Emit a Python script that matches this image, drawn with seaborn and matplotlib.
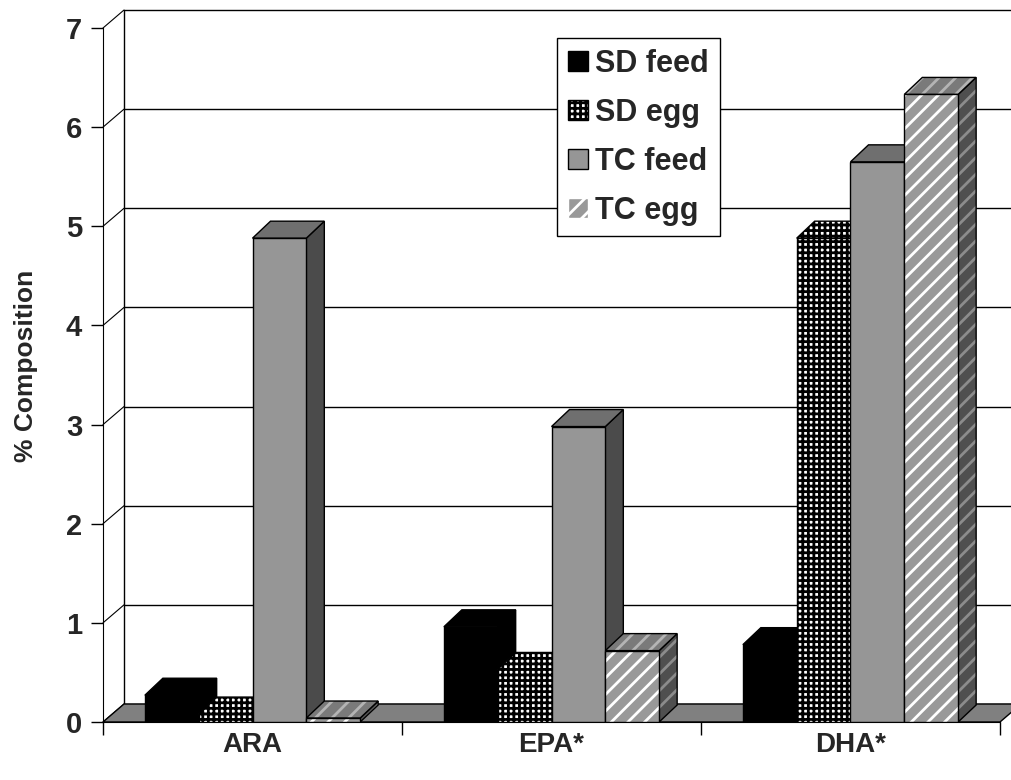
import matplotlib
matplotlib.use('Agg')
import matplotlib.pyplot as plt
import matplotlib.patches as mpatches
import seaborn as sns
import pandas as pd

categories = ['ARA', 'EPA*', 'DHA*']
series = ['SD feed', 'SD egg', 'TC feed', 'TC egg']
sd_feed = [0.27, 0.96, 0.78]
sd_egg = [0.08, 0.53, 4.88]
tc_feed = [4.88, 2.98, 5.65]
tc_egg = [0.04, 0.72, 6.33]
y_ticks = [0, 1, 2, 3, 4, 5, 6, 7]

sns.set_style('white')
plt.rcParams['font.family'] = ['Liberation Sans', 'DejaVu Sans']
plt.rcParams['font.weight'] = 'bold'
plt.rcParams['hatch.linewidth'] = 2.0

# (facecolor, hatch colour, hatch) for front / top / side faces
styles = {
    'SD feed': [('black', 'black', None)] * 3,
    'SD egg': [('white', 'black', '+++')] * 3,
    'TC feed': [('#969696', '#969696', None), ('#6f6f6f', '#6f6f6f', None),
                ('#4b4b4b', '#4b4b4b', None)],
    'TC egg': [('#999999', 'white', '//'), ('#7a7a7a', '#b4b4b4', '//'),
               ('#4f4f4f', '#8c8c8c', '//')],
}


def draw_face(ax, verts, style, z):
    fc, hc, hatch = style
    ax.add_patch(mpatches.Polygon(verts, closed=True, facecolor=fc, edgecolor=hc,
                                  hatch=hatch, linewidth=0, zorder=z, clip_on=False))
    ax.add_patch(mpatches.Polygon(verts, closed=True, fill=False, edgecolor='black',
                                  linewidth=1, zorder=z + 0.01, clip_on=False))


df = pd.DataFrame({
    'category': categories * 4,
    'series': [s for s in series for _ in categories],
    'value': sd_feed + sd_egg + tc_feed + tc_egg,
})

fig = plt.figure(figsize=(10.11, 7.8), dpi=100)
ax = fig.add_axes([103 / 1011, 58 / 780, 897 / 1011, 694 / 780])

sns.barplot(data=df, x='category', y='value', hue='series', hue_order=series,
            order=categories, width=0.72, saturation=1, legend=False,
            palette=['black', 'black', '#969696', '#999999'], ax=ax)

ax.set_xlim(-0.5, 2.5)
ax.set_ylim(0, 7)

# depth of the 3d effect, pixels -> data units
px_x = 3 / 897
px_y = 7 / 694
bdx, bdy = 18 * px_x, 17 * px_y
wdx, wdy = 21 * px_x, 18 * px_y

# back wall, side wall and floor
for k in y_ticks:
    ax.plot([-0.5 + wdx, 2.5 + wdx + 0.1], [k + wdy, k + wdy], color='black',
            lw=1, zorder=1, clip_on=False)
    ax.plot([-0.5, -0.5 + wdx], [k, k + wdy], color='black', lw=0.8,
            zorder=1, clip_on=False)
ax.plot([-0.5 + wdx, -0.5 + wdx], [wdy, 7 + wdy], color='black', lw=1,
        zorder=1, clip_on=False)
ax.add_patch(mpatches.Polygon([(-0.5, 0), (2.5, 0), (2.5 + wdx, wdy), (-0.5 + wdx, wdy)],
                              closed=True, facecolor='#808080', edgecolor='black',
                              linewidth=1, zorder=1.5, clip_on=False))

# 3d bars: side and top faces from the seaborn bars
bars = []
for i, cont in enumerate(ax.containers):
    for rect in cont:
        bars.append((rect.get_x(), rect, series[i]))
bars.sort(key=lambda b: b[0])

for rank, (x0, rect, name) in enumerate(bars):
    z = 3 + rank * 0.1
    w = rect.get_width()
    h = rect.get_height()
    front, top, side = styles[name]
    draw_face(ax, [(x0 + w, 0), (x0 + w + bdx, bdy), (x0 + w + bdx, h + bdy), (x0 + w, h)],
              side, z)
    draw_face(ax, [(x0, h), (x0 + bdx, h + bdy), (x0 + w + bdx, h + bdy), (x0 + w, h)],
              top, z + 0.02)
    rect.set_facecolor(front[0])
    rect.set_edgecolor(front[1])
    rect.set_hatch(front[2])
    rect.set_linewidth(0)
    rect.set_zorder(z + 0.04)
    ax.add_patch(mpatches.Rectangle((x0, 0), w, h, fill=False, edgecolor='black',
                                    linewidth=1, zorder=z + 0.05))

# axes
sns.despine(ax=ax, top=True, right=True)
ax.spines['left'].set_color('black')
ax.spines['bottom'].set_color('black')
ax.spines['left'].set_zorder(2)
ax.spines['bottom'].set_zorder(2)
ax.set_yticks(y_ticks)
ax.set_yticklabels([str(t) for t in y_ticks], fontsize=21, fontweight='bold')
ax.tick_params(axis='y', direction='out', length=9, width=1, color='black', pad=6, left=True)
ax.set_xticks([0, 1, 2])
ax.set_xticklabels(categories, fontsize=20, fontweight='bold')
ax.set_xticks([-0.5, 0.5, 1.5, 2.5], minor=True)
ax.tick_params(axis='x', which='major', length=0, pad=7)
ax.tick_params(axis='x', which='minor', direction='out', length=9, width=1,
               color='black', bottom=True)
ax.set_xlabel('')
ax.set_ylabel('% Composition', fontsize=19, fontweight='bold')
ax.yaxis.set_label_coords(-0.072, 0.513)

handles = []
for name in series:
    fc, hc, hatch = styles[name][0]
    handles.append(mpatches.Patch(facecolor=fc, edgecolor=hc if hatch else 'black',
                                  hatch=hatch))
leg = ax.legend(handles, series, loc='upper left', bbox_to_anchor=(557 / 1011, 1 - 38 / 780),
                bbox_transform=fig.transFigure, frameon=True, fancybox=False,
                edgecolor='black', framealpha=1, fontsize=22, handlelength=0.65,
                handleheight=0.65, handletextpad=0.25, labelspacing=0.62,
                borderpad=0.35, borderaxespad=0)
leg.get_frame().set_linewidth(1.0)
leg.set_zorder(10)
for t in leg.get_texts():
    t.set_fontweight('bold')

fig.savefig('out.png', dpi=100)
